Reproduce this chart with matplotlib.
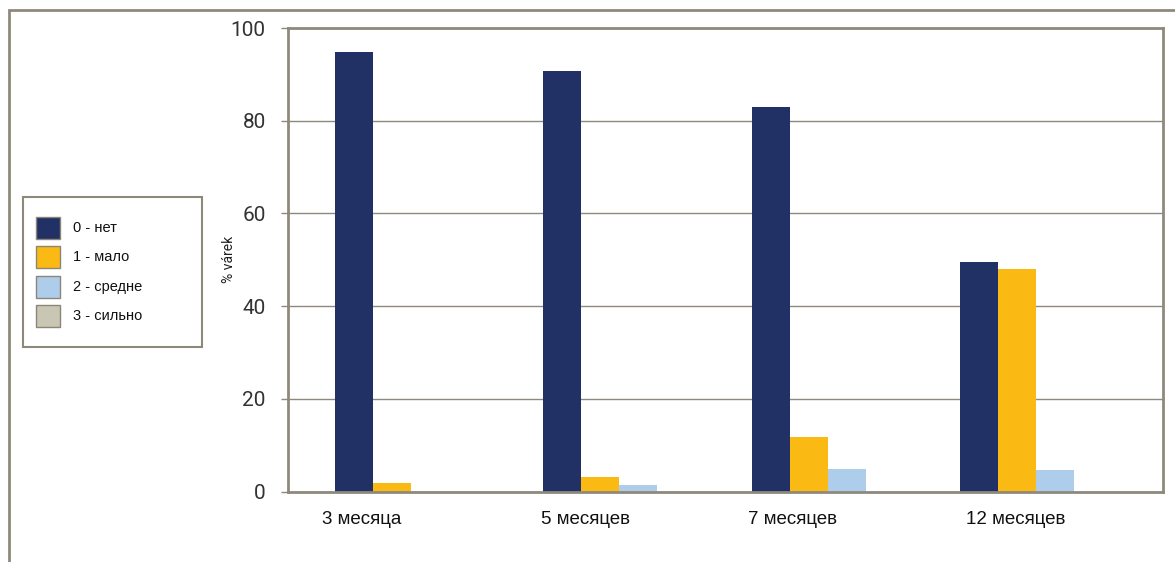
import numpy as np
import matplotlib
matplotlib.use("Agg")
import matplotlib.pyplot as plt
from matplotlib.patches import Rectangle

# Share of animals per score at each age
categories = ["3 месяца", "5 месяцев", "7 месяцев", "12 месяцев"]
series_labels = ["0 - нет", "1 - мало", "2 - средне", "3 - сильно"]
score0 = [94.8, 90.7, 83.0, 49.5]
score1 = [1.8, 3.1, 11.8, 48.0]
score2 = [0.0, 1.4, 4.9, 4.6]
score3 = [0.0, 0.0, 0.0, 0.0]
yticks = [0, 20, 40, 60, 80, 100]

colors = ["#213166", "#FBB913", "#ADCDEB", "#C9C7B3"]
frame_col = "#8f897c"
W, H = 1175, 562

fig = plt.figure(figsize=(W / 100, H / 100), dpi=100)
ax = fig.add_axes([288 / W, 70.5 / H, 875 / W, 463.5 / H])

values = [score0, score1, score2, score3]
w = 0.1824
x = np.arange(len(categories))
for j, (vals, col) in enumerate(zip(values, colors)):
    ax.bar(x - 2 * w + j * w, vals, width=w, align="edge", color=col,
           linewidth=0, zorder=3)

ax.set_xlim(-0.59, 3.61)
ax.set_ylim(0, 100)
ax.set_yticks(yticks)
ax.set_yticklabels([str(t) for t in yticks], fontfamily="Roboto",
                   fontsize=15, color="#333333")
ax.tick_params(axis="y", length=5, width=1, color=frame_col, pad=11)
ax.set_xticks([])
ax.grid(axis="y", color=frame_col, linewidth=1, zorder=1)
for s in ax.spines.values():
    s.set_color(frame_col)
    s.set_linewidth(2)
    s.set_zorder(4)

# category names sit under the left edge of each group
offsets = [-0.06, -0.01, -0.015, 0.03]
for xi, name, off in zip(x, categories, offsets):
    ax.text(xi - 2 * w + off, -6.0, name, ha="left", va="center",
            fontfamily="Liberation Sans", fontsize=13.5, color="#111111",
            clip_on=False)

ax.text(-0.067, 0.5, "% várek", rotation=90, ha="center", va="center",
        fontfamily="Roboto", fontsize=10, color="#222222",
        transform=ax.transAxes)


def px(x0, y0):
    # pixel position (from top-left) to figure fraction
    return x0 / W, 1 - y0 / H


# legend box on the left side of the figure
fig.patches.append(Rectangle(px(22.7, 347), 179 / W, 150 / H,
                             transform=fig.transFigure, facecolor="white",
                             edgecolor=frame_col, linewidth=1.5))
for k, (lab, col) in enumerate(zip(series_labels, colors)):
    top = 217 + k * 29.4
    fig.patches.append(Rectangle(px(36, top + 22), 24 / W, 22 / H,
                                 transform=fig.transFigure, facecolor=col,
                                 edgecolor="#8a8678", linewidth=1))
    fig.text(*px(73, top + 11), lab, ha="left", va="center",
             fontfamily="Liberation Sans", fontsize=10.5, color="#111111")

# outer frame around the whole chart
fig.patches.append(Rectangle((9 / W, -0.1), 1.2, 1.1 - 10 / H,
                             transform=fig.transFigure, fill=False,
                             edgecolor=frame_col, linewidth=2))

fig.savefig("out.png", dpi=100)
